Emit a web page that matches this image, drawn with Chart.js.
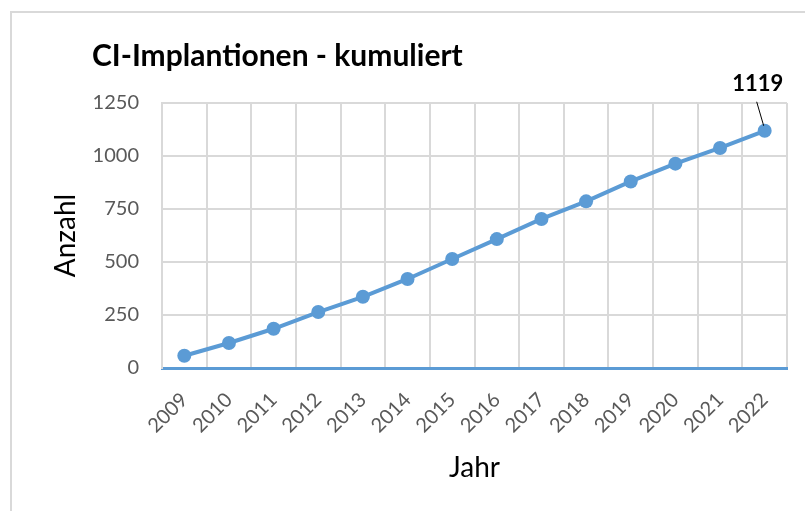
<!DOCTYPE html>
<html>
<head>
<meta charset="utf-8">
<script src="https://cdn.jsdelivr.net/npm/chart.js@4/dist/chart.umd.min.js"></script>
<style>
  html, body { margin: 0; padding: 0; background: #fff; }
  canvas { display: block; }
</style>
</head>
<body>
<canvas id="c" width="805" height="511"></canvas>
<script>
const categories = ["2009","2010","2011","2012","2013","2014","2015","2016","2017","2018","2019","2020","2021","2022"];
const values = [58,118,185,264,336,420,514,608,703,786,880,964,1038,1119];
const yTicks = [0,250,500,750,1000,1250];
const titleText = "CI-Implantionen - kumuliert";
const yTitle = "Anzahl";
const xTitle = "Jahr";
const labelIndex = values.length - 1;

const FONT = "Lato, 'Open Sans', sans-serif";
const BLUE = "#5b9bd5";
const GRID = "#d9d9d9";
const TICK = "#595959";

const textPlugin = {
  id: 'texts',
  beforeDraw(chart) {
    const ctx = chart.ctx;
    ctx.save();
    ctx.fillStyle = '#fff';
    ctx.fillRect(0, 0, chart.width, chart.height);
    ctx.strokeStyle = GRID;
    ctx.lineWidth = 2;
    ctx.beginPath();
    ctx.moveTo(11, chart.height);
    ctx.lineTo(11, 12);
    ctx.lineTo(chart.width, 12);
    ctx.stroke();
    ctx.restore();
  },
  afterDraw(chart) {
    const ctx = chart.ctx;
    const a = chart.chartArea;
    ctx.save();
    // title
    ctx.fillStyle = '#000';
    ctx.font = "bold 30px " + FONT;
    ctx.textAlign = 'left';
    ctx.textBaseline = 'alphabetic';
    ctx.fillText(titleText, 92, 66);
    // axis titles
    ctx.font = "28px " + FONT;
    ctx.textAlign = 'center';
    ctx.fillText(xTitle, (a.left + a.right) / 2, 477);
    ctx.save();
    ctx.translate(75, (a.top + a.bottom) / 2);
    ctx.rotate(-Math.PI / 2);
    ctx.textBaseline = 'alphabetic';
    ctx.fillText(yTitle, 0, 0);
    ctx.restore();
    // data label with leader line
    const meta = chart.getDatasetMeta(0);
    const pt = meta.data[labelIndex];
    ctx.strokeStyle = '#000';
    ctx.lineWidth = 1;
    ctx.beginPath();
    ctx.moveTo(pt.x - 1, pt.y - 5);
    ctx.lineTo(pt.x - 8, pt.y - 29);
    ctx.stroke();
    ctx.font = "bold 22px " + FONT;
    ctx.textAlign = 'center';
    ctx.fillText(String(values[labelIndex]), pt.x - 7, pt.y - 40);
    ctx.restore();
  }
};

new Chart(document.getElementById('c'), {
  type: 'line',
  data: {
    labels: categories,
    datasets: [{
      data: values,
      borderColor: BLUE,
      backgroundColor: BLUE,
      borderWidth: 4,
      pointRadius: 7,
      pointHoverRadius: 7,
      pointBorderWidth: 0,
      pointBackgroundColor: BLUE,
      tension: 0,
      fill: false
    }]
  },
  options: {
    responsive: false,
    animation: false,
    events: [],
    layout: { padding: { top: 103, right: 18, left: 0, bottom: 0 } },
    plugins: {
      legend: { display: false },
      title: { display: false },
      tooltip: { enabled: false }
    },
    scales: {
      x: {
        type: 'category',
        offset: true,
        afterFit(s) { s.height = 143; },
        grid: {
          offset: true,
          color: GRID,
          lineWidth: 2,
          drawTicks: false
        },
        border: { color: BLUE, width: 3 },
        ticks: {
          color: TICK,
          font: { family: FONT, size: 20 },
          minRotation: 45,
          maxRotation: 45,
          padding: 20,
          autoSkip: false
        }
      },
      y: {
        min: yTicks[0],
        max: yTicks[yTicks.length - 1],
        afterFit(s) { s.width = 162; },
        afterBuildTicks(s) { s.ticks = yTicks.map(v => ({ value: v })); },
        grid: {
          color: (c) => c.tick && c.tick.value === 0 ? 'rgba(0,0,0,0)' : GRID,
          lineWidth: 2,
          drawTicks: false
        },
        border: { color: GRID, width: 2 },
        ticks: {
          color: TICK,
          font: { family: FONT, size: 20 },
          padding: 23,
          callback: (v) => String(v)
        }
      }
    }
  },
  plugins: [textPlugin]
});
</script>
</body>
</html>
